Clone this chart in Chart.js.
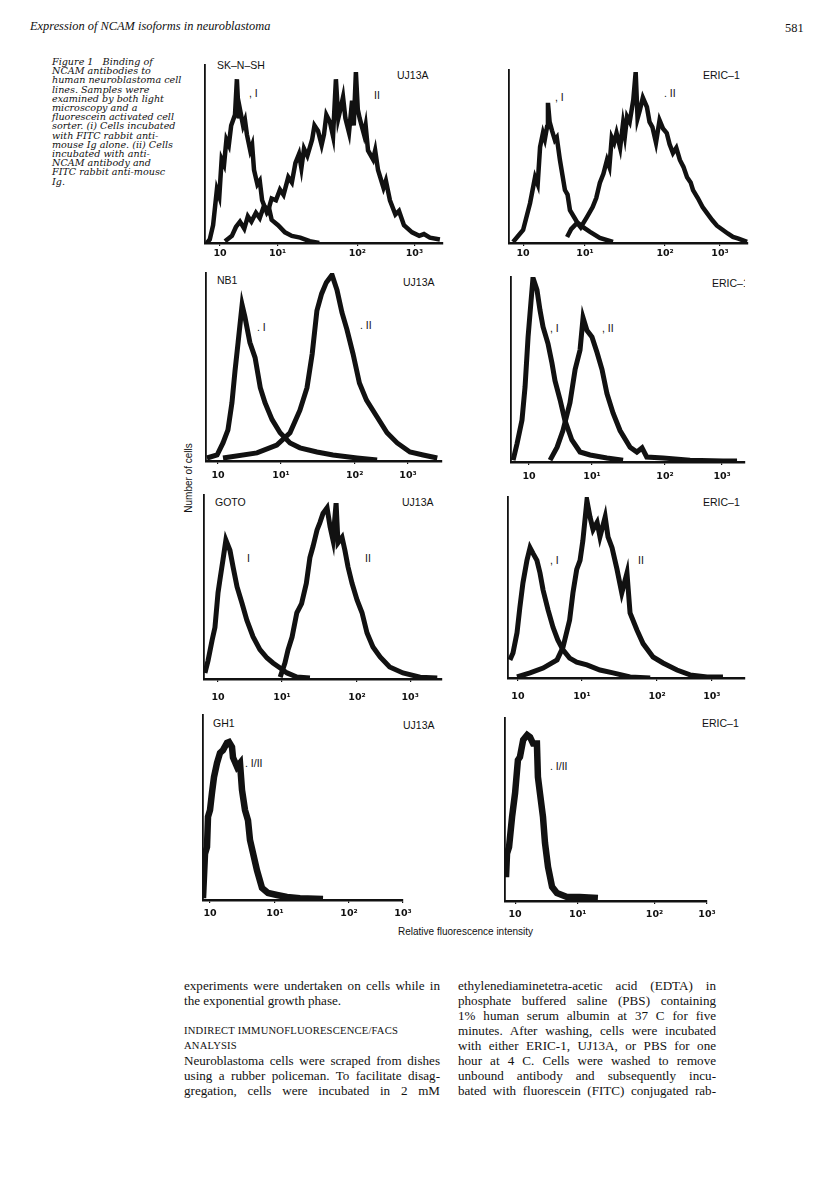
<!DOCTYPE html>
<html>
<head>
<meta charset="utf-8">
<script src="https://cdn.jsdelivr.net/npm/chart.js@4"></script>
<style>
body { margin: 0; background: #fff; }
#page { position: relative; width: 816px; height: 1179px; overflow: hidden; color: #111; font-family: 'Liberation Serif', 'Times New Roman', serif; }
.t { position: absolute; white-space: nowrap; }
.lab { position: absolute; white-space: nowrap; font-family: 'Liberation Sans', Arial, sans-serif; font-size: 10.5px; line-height: 12px; }
.j { position: absolute; font-size: 13.1px; line-height: 16px; text-align: justify; text-align-last: justify; white-space: nowrap; }
.l { position: absolute; font-size: 13.1px; line-height: 16px; white-space: nowrap; }
.cap { font-family: 'DejaVu Serif', serif; font-style: italic; font-size: 9.6px; line-height: 9.2px; }
canvas { position: absolute; }
</style>
</head>
<body>
<div id="page">
  <div class="t" style="left:30px;top:19px;font-style:italic;font-size:12.4px;">Expression of NCAM isoforms in neuroblastoma</div>
  <div class="t" style="left:785px;top:21px;font-size:12.4px;">581</div>

  <div class="t cap" style="left:52px;top:57px;">
    Figure 1&nbsp;&nbsp; Binding of<br>NCAM antibodies to<br>human neuroblastoma cell<br>lines. Samples were<br>examined by both light<br>microscopy and a<br>fluorescein activated cell<br>sorter. (i) Cells incubated<br>with FITC rabbit anti-<br>mouse Ig alone. (ii) Cells<br>incubated with anti-<br>NCAM antibody and<br>FITC rabbit anti-mousc<br>Ig.
  </div>

  <!-- panel labels -->
  <div class="lab" style="left:217px;top:59px;">SK–N–SH</div>
  <div class="lab" style="left:397px;top:69px;">UJ13A</div>
  <div class="lab" style="left:249px;top:87px;">, I</div>
  <div class="lab" style="left:374px;top:89px;">II</div>

  <div class="lab" style="left:703px;top:69px;">ERIC–1</div>
  <div class="lab" style="left:555px;top:91px;">, I</div>
  <div class="lab" style="left:664px;top:87px;">. II</div>

  <div class="lab" style="left:217px;top:274px;">NB1</div>
  <div class="lab" style="left:403px;top:276px;">UJ13A</div>
  <div class="lab" style="left:257px;top:321px;">. I</div>
  <div class="lab" style="left:360px;top:319px;">. II</div>

  <div class="lab" style="left:712px;top:277px;width:33px;overflow:hidden;">ERIC–1</div>
  <div class="lab" style="left:550px;top:322px;">, I</div>
  <div class="lab" style="left:602px;top:322px;">, II</div>

  <div class="lab" style="left:215px;top:496px;">GOTO</div>
  <div class="lab" style="left:402px;top:496px;">UJ13A</div>
  <div class="lab" style="left:247px;top:552px;">I</div>
  <div class="lab" style="left:365px;top:552px;">II</div>

  <div class="lab" style="left:703px;top:496px;">ERIC–1</div>
  <div class="lab" style="left:550px;top:554px;">, I</div>
  <div class="lab" style="left:638px;top:554px;">II</div>

  <div class="lab" style="left:213px;top:717px;">GH1</div>
  <div class="lab" style="left:403px;top:719px;">UJ13A</div>
  <div class="lab" style="left:245px;top:757px;">. I/II</div>

  <div class="lab" style="left:702px;top:717px;">ERIC–1</div>
  <div class="lab" style="left:550px;top:760px;">. I/II</div>

  <div class="lab" style="left:139px;top:472px;width:100px;text-align:center;font-size:10px;transform:rotate(-90deg);">Number of cells</div>
  <div class="lab" style="left:398px;top:926px;font-size:10px;">Relative fluorescence intensity</div>

  <canvas id="skUJ"></canvas>
  <canvas id="skER"></canvas>
  <canvas id="nbUJ"></canvas>
  <canvas id="nbER"></canvas>
  <canvas id="gtUJ"></canvas>
  <canvas id="gtER"></canvas>
  <canvas id="ghUJ"></canvas>
  <canvas id="ghER"></canvas>

  <!-- body text -->
  <div class="j" style="left:184px;top:978px;width:256px;">experiments were undertaken on cells while in</div>
  <div class="l" style="left:184px;top:993px;">the exponential growth phase.</div>
  <div class="l" style="left:184px;top:1023px;font-size:10.6px;letter-spacing:0.2px;">INDIRECT IMMUNOFLUORESCENCE/FACS</div>
  <div class="l" style="left:184px;top:1038px;font-size:10.6px;letter-spacing:0.2px;">ANALYSIS</div>
  <div class="j" style="left:184px;top:1053px;width:256px;">Neuroblastoma cells were scraped from dishes</div>
  <div class="j" style="left:184px;top:1068px;width:256px;">using a rubber policeman. To facilitate disag-</div>
  <div class="j" style="left:184px;top:1083px;width:256px;">gregation, cells were incubated in 2 mM</div>

  <div class="j" style="left:458px;top:978px;width:258px;">ethylenediaminetetra-acetic acid (EDTA) in</div>
  <div class="j" style="left:458px;top:993px;width:258px;">phosphate buffered saline (PBS) containing</div>
  <div class="j" style="left:458px;top:1008px;width:258px;">1% human serum albumin at 37 C for five</div>
  <div class="j" style="left:458px;top:1023px;width:258px;">minutes. After washing, cells were incubated</div>
  <div class="j" style="left:458px;top:1038px;width:258px;">with either ERIC-1, UJ13A, or PBS for one</div>
  <div class="j" style="left:458px;top:1053px;width:258px;">hour at 4 C. Cells were washed to remove</div>
  <div class="j" style="left:458px;top:1068px;width:258px;">unbound antibody and subsequently incu-</div>
  <div class="j" style="left:458px;top:1083px;width:258px;">bated with fluorescein (FITC) conjugated rab-</div>
</div>

<script>
// x is the channel position along each axis (0-100), y is number of cells (0-100 of axis height)
const tickText = ['10', '10¹', '10²', '10³'];

// SK-N-SH
const skUJ_ticks = [6.3, 30.5, 64, 88];
const skUJ_I = [[0.8,0],[2,2],[3.4,10],[5,30],[6,26],[7,47],[8,44],[9,58],[10,55],[11,66],[12.6,72],[13.4,92],[14.2,70],[14.7,75],[16,66],[16.8,69],[17.6,61],[19,52],[19.8,55],[20.6,41],[22,33],[23,35],[24,24],[26,17],[27,19],[28,13],[30.7,10],[33.6,6],[36.5,4],[40,3],[44,1],[48,0]];
const skUJ_II = [[8.4,1],[11.3,4],[13,9],[14.7,12],[16.5,8],[18,15],[19.5,12],[21.4,17],[23,14],[24.8,21],[26.5,18],[28,25],[29.8,24],[31.5,30],[33,27],[35,37],[36.5,34],[38,45],[39.5,50],[40.5,42],[41.6,53],[43,49],[45,58],[46,66],[47.5,63],[49,55],[50,61],[51,72],[52.5,68],[53.8,60],[55,92],[56,70],[56.7,74],[58,82],[59,70],[60.5,62],[61.8,80],[62.5,66],[63.4,96],[64.2,75],[65,70],[66.8,61],[67.5,66],[68.5,52],[70.6,47],[71.5,52],[72.7,41],[75,31],[76,35],[77.7,24],[80,16],[81.5,18],[83.6,10],[87,6],[90,4],[92,5],[94.5,3],[98.7,2]];
const skER_ticks = [5.9, 31.8, 65.3, 88.3];
const skER_I = [[1.7,0.6],[5.9,7.5],[8.8,23],[10.9,38],[12,34],[13,55.5],[14.2,63.6],[15,60],[15.9,67],[16.3,81],[17,70],[18,65],[19.2,59.5],[20,61],[21.3,48],[23.4,30.6],[24.5,28],[25.5,19],[28.5,12],[31,9.2],[33.9,6.4],[38,2.9],[43.5,0.6]];
const skER_II = [[24.3,3.5],[26,8],[28.5,11.6],[30,9],[32.6,15],[35,20.8],[36.5,26],[38,34.7],[39.5,40],[41,48],[42,44],[43,61],[44,58],[45,63.6],[46.5,55],[47.7,69],[48.5,62],[49.4,73],[50.5,70],[52,82.7],[53,98.8],[53.8,72],[54.8,77],[56,84],[57.7,78.6],[58.8,70],[60,67],[61.5,58],[63,71],[64.5,66],[66,63.6],[67.2,57],[68.6,52],[70,55],[71.5,48],[73,44],[74.5,38],[76,35],[77,30.6],[79,26],[81,20.8],[83,17],[85,13.3],[87,10],[89.5,7.5],[91.5,5.5],[93.7,3.5],[96,2.5],[99.6,0.6]];

// NB1
const nbUJ_ticks = [5.1, 31.8, 63, 85.6];
const nbUJ_I = [[0.4,1.6],[4.7,3.2],[7.2,9.6],[9.3,16.5],[11,31],[12.3,48],[13.6,63],[15.3,83],[16.5,76.6],[18.6,63],[20.8,55],[23,39],[25,31],[28,22],[31.4,15],[35.6,9.6],[39.8,7],[47,4.8],[53.8,3.2],[64,1.6],[72.5,0.5]];
const nbUJ_II = [[7.2,1.6],[21.6,4.3],[30,8.5],[35.6,15],[39.8,27],[42.8,39],[45,57],[47,80],[49,89],[51,95],[53.4,99],[55.5,91],[57.6,79],[59.7,70],[62.3,57],[65,41.5],[68,32.4],[72.5,23.4],[76.7,15],[81,9.6],[86.4,4.8],[92,3.2],[98,1.6]];
const nbER_ticks = [7.7, 34.6, 65.8, 90.2];
const nbER_I = [[0.9,1],[2.6,10],[4.7,22.7],[6,40.5],[7.3,67.6],[8.5,86],[9.4,99.5],[11.1,93],[12.4,82],[13.7,73],[15.8,64],[17.5,53.5],[18.8,44],[21,33.5],[23,22.7],[26,11.9],[29.5,5.4],[33.8,3.8],[41,2.2],[47.9,1]];
const nbER_II = [[16.7,1],[19.7,8],[22.2,17],[25.2,32],[27.4,50],[29.5,60.5],[30.8,78],[32.5,71],[34.6,67.6],[36.8,59],[38.9,50],[41,37],[43.6,26.5],[46.6,17],[50.9,8],[53.8,5.4],[56,7.6],[58,2.7],[65,2.2],[76.5,1],[90.6,0.5],[96.6,0.5]];

// GOTO
const gtUJ_ticks = [5.9, 32.8, 64.3, 86.6];
const gtUJ_I = [[0.4,3.3],[1.7,10],[3.4,21],[4.6,28],[5.9,47],[6.7,54],[8,65],[9.2,75.5],[10.9,70],[12.2,61],[13.9,50],[16,41],[18,32],[20.6,23],[23.5,16],[26.5,11.4],[29,8.7],[32,6],[34.9,3.3],[39,1.1],[44.5,0.5]];
const gtUJ_II = [[32,1],[34,8.7],[35.3,15.8],[37,22.8],[39,36],[41,41],[43,52],[44.5,66],[45.8,72],[47.5,81],[48.7,85],[50,90],[51.7,93],[53,82.6],[54.2,75.5],[55.5,95.6],[56.3,74],[58,77],[59.2,70],[60.5,61],[62.2,52],[64.3,43],[66.4,36],[68.5,25],[71,17.4],[74,12],[78,6.5],[83.6,3.3],[90.8,1],[98,0.5]];
const gtER_ticks = [4.2, 31.2, 62.9, 86];
const gtER_I = [[0.8,10],[2.1,13.8],[3.8,25],[5,39],[6.3,52.5],[8,65],[9.3,72],[10.5,69],[12.2,65],[13.5,58],[14.8,48.6],[16.9,37.6],[19,28],[21,21],[23.2,15.5],[26,11],[29,8.8],[33.3,7.2],[38.8,4.4],[44.3,2.8],[51.5,0.6],[60,0]];
const gtER_II = [[3.8,0.6],[9.3,2.8],[14.8,5.5],[20.7,10],[23.2,17],[26,32],[27.4,47],[29,60],[30.4,65],[31.6,76],[33.3,98],[34.6,89],[35.9,82],[37.6,86],[38.8,78],[41,89],[42.2,78],[43.9,72],[46,60],[48,47],[50.2,58],[51.5,36],[54.4,26.5],[57,19],[61.2,11.6],[65.4,8.3],[71.3,4.4],[76.8,1.7],[84,0.6],[90.7,0.6]];

// GH1 (I and II coincide)
const ghUJ_ticks = [3.5, 36, 73, 100];
const ghUJ_I = [[0,1],[1,25],[2,28.6],[2.5,45],[3.5,48.6],[4.5,58],[5.5,66.5],[7,74],[8.5,79.5],[10,81],[12,85],[13,85.4],[14.5,82.7],[15,77],[17,72],[18.5,74],[19.5,59.5],[21,48.6],[22.5,43],[23.5,32.4],[25,25.4],[27,16],[29.5,6.5],[32.5,3.8],[37,2.7],[42,1.6],[48.5,1],[60,0.5]];
const ghER_ticks = [5, 36, 74, 100];
const ghER_I = [[0.5,13],[1,26],[2,29.5],[3.5,46],[5,59],[6.4,77],[7.4,78.7],[9,88],[11,90.7],[12.4,89.6],[13.9,86],[15.8,86],[16.3,67.8],[17.3,59],[18.8,46],[19.8,31.7],[21.3,18.6],[23.3,7.7],[25.7,4.4],[30.7,2.2],[37,2.2],[46,1.6]];

function histo(id, box, ticks, curves, tickPad, lw) {
  const padL = 14, padR = 14, padT = 2, axisH = 30;
  const cv = document.getElementById(id);
  cv.width = box.R - box.L + padL + padR;
  cv.height = box.B - box.T + padT + axisH;
  cv.style.left = (box.L - padL) + 'px';
  cv.style.top = (box.T - padT) + 'px';
  return new Chart(cv, {
    type: 'line',
    data: {
      datasets: curves.map(c => ({
        data: c.map(p => ({ x: p[0], y: p[1] })),
        borderColor: '#111',
        borderWidth: lw,
        pointRadius: 0,
        tension: 0,
        fill: false
      }))
    },
    options: {
      responsive: false,
      animation: false,
      layout: { padding: { left: padL, right: padR, top: padT, bottom: 0 } },
      plugins: { legend: { display: false }, tooltip: { enabled: false } },
      scales: {
        x: {
          type: 'linear', min: 0, max: 100,
          afterFit: s => { s.height = axisH; },
          afterBuildTicks: s => { s.ticks = ticks.map(v => ({ value: v })); },
          ticks: {
            callback: (v, i) => tickText[i],
            autoSkip: false, maxRotation: 0, padding: tickPad, color: '#111',
            font: { family: "'DejaVu Sans', Arial, sans-serif", size: 9.5, weight: 'bold' }
          },
          grid: { drawOnChartArea: false, drawTicks: true, tickLength: 3, color: '#111', lineWidth: 1.2 },
          border: { display: true, color: '#111', width: 2.4 }
        },
        y: {
          min: 0, max: 100,
          afterFit: s => { s.width = 0; },
          ticks: { display: false },
          grid: { display: false },
          border: { display: true, color: '#111', width: 1.8 }
        }
      }
    }
  });
}

histo('skUJ', { L: 205, R: 443, T: 65, B: 243 }, skUJ_ticks, [skUJ_I, skUJ_II], 2, 4.5);
histo('skER', { L: 509, R: 748, T: 70, B: 243 }, skER_ticks, [skER_I, skER_II], 2, 4.5);
histo('nbUJ', { L: 206, R: 442, T: 273, B: 461 }, nbUJ_ticks, [nbUJ_I, nbUJ_II], 6, 5);
histo('nbER', { L: 511, R: 745, T: 277, B: 462 }, nbER_ticks, [nbER_I, nbER_II], 6, 5);
histo('gtUJ', { L: 204, R: 442, T: 495, B: 679 }, gtUJ_ticks, [gtUJ_I, gtUJ_II], 10, 5);
histo('gtER', { L: 508, R: 745, T: 497, B: 678 }, gtER_ticks, [gtER_I, gtER_II], 10, 5);
histo('ghUJ', { L: 203, R: 403, T: 715, B: 900 }, ghUJ_ticks, [ghUJ_I], 5, 6.5);
histo('ghER', { L: 505, R: 707, T: 718, B: 901 }, ghER_ticks, [ghER_I], 5, 6.5);
</script>
</body>
</html>
